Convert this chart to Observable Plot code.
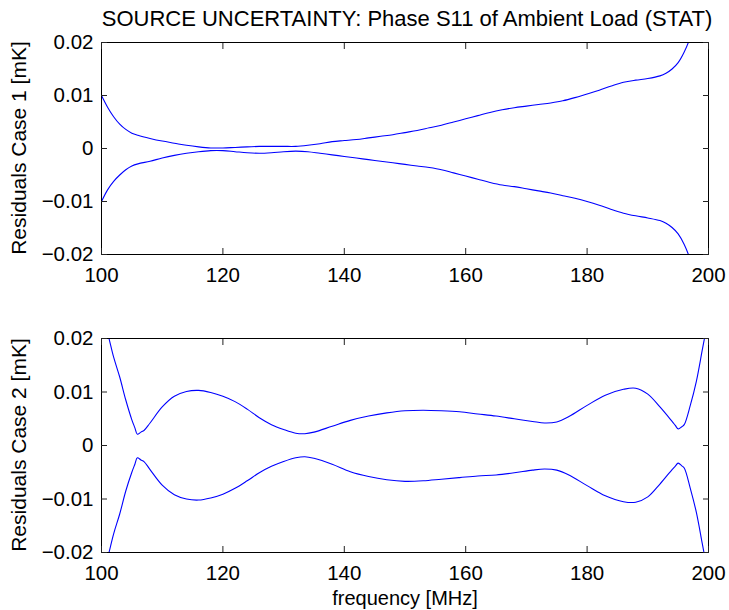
<!DOCTYPE html>
<html><head><meta charset="utf-8">
<script src="https://cdn.jsdelivr.net/npm/d3@7"></script>
<script src="https://cdn.jsdelivr.net/npm/@observablehq/plot@0.6"></script>
<style>
body{margin:0;background:#fff;}
#wrap{position:relative;width:729px;height:610px;font-family:"Liberation Sans",Arial,sans-serif;background:#fff;overflow:hidden;}
.lbl{position:absolute;color:#000;white-space:nowrap;line-height:1;transform:translate(-50%,-50%);}
.rot{transform:translate(-50%,-50%) rotate(-90deg);}
.panel{position:absolute;left:0;}
</style></head><body><div id="wrap"></div>
<script>
const titleText = "SOURCE UNCERTAINTY: Phase S11 of Ambient Load (STAT)";
const yLabel1 = "Residuals Case 1 [mK]";
const yLabel2 = "Residuals Case 2 [mK]";
const xLabel = "frequency [MHz]";
const xTicks = [100, 120, 140, 160, 180, 200];
const yTicks = [-0.02, -0.01, 0, 0.01, 0.02];

// Panel 1 (Case 1)
const freq1 = [100,101,102,103,104,105,106,108,110,112,114,116,118,120,122,124,126,128,130,132,134,136,138,140,142,144,146,148,150,152,154,156,158,160,162,164,166,168,170,172,174,176,178,180,182,184,186,188,190,192,193,194,195,196,197,198,199,200];
const upper1 = [0.0100,0.0078,0.0060,0.0046,0.0036,0.0029,0.0025,0.0019,0.0014,0.0010,0.0006,0.0003,0.0001,0.0001,0.0002,0.0003,0.0004,0.0004,0.0004,0.0004,0.0006,0.0009,0.0013,0.0015,0.0017,0.0020,0.0023,0.0026,0.0030,0.0034,0.0039,0.0044,0.0050,0.0056,0.0062,0.0068,0.0073,0.0077,0.0080,0.0083,0.0086,0.0090,0.0096,0.0103,0.0110,0.0118,0.0125,0.0129,0.0132,0.0137,0.0142,0.0150,0.0162,0.0182,0.0210,0.0250,0.0300,0.0360];
const lower1 = [-0.0100,-0.0078,-0.0062,-0.0050,-0.0040,-0.0033,-0.0029,-0.0024,-0.0018,-0.0013,-0.0009,-0.0006,-0.0004,-0.0004,-0.0006,-0.0008,-0.0009,-0.0008,-0.0006,-0.0005,-0.0006,-0.0009,-0.0012,-0.0015,-0.0018,-0.0021,-0.0024,-0.0027,-0.0030,-0.0033,-0.0036,-0.0040,-0.0046,-0.0052,-0.0058,-0.0064,-0.0069,-0.0072,-0.0076,-0.0080,-0.0084,-0.0089,-0.0094,-0.0100,-0.0107,-0.0115,-0.0122,-0.0127,-0.0131,-0.0136,-0.0141,-0.0149,-0.0161,-0.0181,-0.0210,-0.0250,-0.0300,-0.0360];

// Panel 2 (Case 2)
const freq2 = [100,101,102,103,104,105,105.5,105.9,106.5,107,108,110,112,114,116,118,120,122,124,126,128,130,132,133.5,135,138,141,144,147,150,153,156,159,162,165,168,171,173,175,177,180,183,186,188,190,192,194,194.5,195,195.6,196,197,198,199,200];
const upper2 = [0.0245,0.0210,0.0165,0.0128,0.0085,0.0048,0.0033,0.0021,0.0025,0.0028,0.0042,0.0072,0.0092,0.0101,0.0103,0.0099,0.0092,0.0082,0.0068,0.0052,0.0039,0.0030,0.0023,0.0022,0.0025,0.0036,0.0047,0.0055,0.0061,0.0065,0.0066,0.0065,0.0063,0.0059,0.0055,0.0050,0.0045,0.0042,0.0044,0.0054,0.0075,0.0094,0.0105,0.0107,0.0096,0.0072,0.0045,0.0038,0.0031,0.0035,0.0039,0.0075,0.0120,0.0180,0.0240];
const lower2 = [-0.0245,-0.0210,-0.0165,-0.0128,-0.0085,-0.0050,-0.0035,-0.0023,-0.0027,-0.0030,-0.0045,-0.0074,-0.0092,-0.0100,-0.0102,-0.0098,-0.0091,-0.0080,-0.0066,-0.0051,-0.0039,-0.0030,-0.0023,-0.0021,-0.0024,-0.0035,-0.0049,-0.0058,-0.0064,-0.0067,-0.0066,-0.0063,-0.0060,-0.0057,-0.0055,-0.0051,-0.0046,-0.0044,-0.0046,-0.0055,-0.0075,-0.0094,-0.0105,-0.0106,-0.0096,-0.0072,-0.0045,-0.0039,-0.0033,-0.0038,-0.0042,-0.0080,-0.0125,-0.0185,-0.0245];

const fmtY = d => d === 0 ? "0" : (d < 0 ? "\u2212" : "") + Math.abs(d).toFixed(2);

function panel(freq, up, lo, height, mt, mb) {
  const rows = [];
  freq.forEach((f, i) => {
    rows.push({f, v: up[i], s: "upper"});
    rows.push({f, v: lo[i], s: "lower"});
  });
  return Plot.plot({
    width: 729, height, marginTop: mt, marginBottom: mb, marginLeft: 101, marginRight: 21,
    style: {fontFamily: "'Liberation Sans', Arial, sans-serif", fontSize: "20.5px", color: "#000", background: "white", overflow: "visible"},
    x: {domain: [100, 200]},
    y: {domain: [-0.02, 0.02]},
    marks: [
      Plot.line(rows, {x: "f", y: "v", z: "s", stroke: "#0000ff", strokeWidth: 1.1, curve: "catmull-rom", clip: true}),
      Plot.frame({stroke: "#000", strokeWidth: 1}),
      Plot.axisX({anchor: "bottom", ticks: xTicks, tickSize: -6, tickPadding: 19, label: null, tickFormat: d => String(d), stroke: "#222"}),
      Plot.axisX({anchor: "top", ticks: xTicks, tickSize: -6, label: null, tickFormat: () => "", stroke: "#222"}),
      Plot.axisY({anchor: "left", ticks: yTicks, tickSize: -6, tickPadding: 14, label: null, tickFormat: fmtY, stroke: "#222"}),
      Plot.axisY({anchor: "right", ticks: yTicks, tickSize: -6, label: null, tickFormat: () => "", stroke: "#222"})
    ]
  });
}

const wrap = document.getElementById("wrap");
const p1 = panel(freq1, upper1, lower1, 300, 42, 46);
p1.classList.add("panel"); p1.style.top = "0px"; p1.style.position = "absolute";
const p2 = panel(freq2, upper2, lower2, 310, 38, 58);
p2.classList.add("panel"); p2.style.top = "300px"; p2.style.position = "absolute";
wrap.appendChild(p1);
wrap.appendChild(p2);

function addLabel(text, x, y, size, rot) {
  const d = document.createElement("div");
  d.className = "lbl" + (rot ? " rot" : "");
  d.textContent = text;
  d.style.left = x + "px"; d.style.top = y + "px"; d.style.fontSize = size + "px";
  wrap.appendChild(d);
}
addLabel(titleText, 407, 19, 22, false);
addLabel(yLabel1, 18, 148, 21, true);
addLabel(yLabel2, 18, 445, 21, true);
addLabel(xLabel, 405, 598, 20, false);
</script></body></html>
